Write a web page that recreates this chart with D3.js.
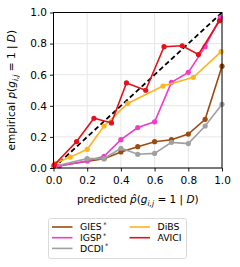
<!DOCTYPE html>
<meta charset="utf-8">
<script src="https://d3js.org/d3.v7.min.js"></script>
<style>
  body { margin: 0; background: #fff; }
  text { font-family: "DejaVu Sans", sans-serif; }
</style>
<svg id="chart"></svg>
<script>

// calibration data
let gies_x  = [0.0, 0.3, 0.4, 0.5, 0.6, 0.7, 0.8, 0.9, 1.0],
    gies_y  = [0.01, 0.06, 0.103, 0.137, 0.169, 0.182, 0.218, 0.313, 0.655];
let igsp_x  = [0.035, 0.2, 0.3, 0.4, 0.5, 0.6, 0.7, 0.8, 0.9, 0.99],
    igsp_y  = [0.013, 0.045, 0.075, 0.182, 0.26, 0.297, 0.551, 0.615, 0.78, 0.967];
let dcdi_x  = [0.0, 0.2, 0.3, 0.4, 0.5, 0.6, 0.7, 0.8, 0.9, 1.0],
    dcdi_y  = [0.01, 0.06, 0.06, 0.127, 0.088, 0.094, 0.165, 0.157, 0.27, 0.41];
let dibs_x  = [0.01, 0.1, 0.2, 0.3, 0.44, 0.65, 0.83, 0.995],
    dibs_y  = [0.03, 0.07, 0.12, 0.27, 0.415, 0.527, 0.583, 0.748];
let avici_x = [0.005, 0.137, 0.24, 0.344, 0.433, 0.547, 0.656, 0.764, 0.86, 0.985],
    avici_y = [0.02, 0.17, 0.32, 0.29, 0.547, 0.50, 0.78, 0.786, 0.73, 0.947];

let series_names = ["GIES", "IGSP", "DCDI", "DiBS", "AVICI"];
let series_star = [true, true, true, false, false];
let series_colors = ["#9c4a0e", "#f03cc8", "#a0a0a0", "#ffb41e", "#e3111b"];
let ticks = [0, 0.2, 0.4, 0.6, 0.8, 1.0];

let series = [
  {x: gies_x, y: gies_y},
  {x: igsp_x, y: igsp_y},
  {x: dcdi_x, y: dcdi_y},
  {x: dibs_x, y: dibs_y},
  {x: avici_x, y: avici_y}
];

let svg = d3.select("#chart"),
    width = 240,
    height = 267;
svg.attr("width", width).attr("height", height);

let x = d3.scaleLinear().domain([0, 1]).range([53.5, 222]);
let y = d3.scaleLinear().domain([0, 1]).range([168, 12.5]);

// grid
let grid = svg.append("g");
grid.selectAll(".gx").data(ticks).enter().append("line")
    .attr("x1", d => x(d)).attr("x2", d => x(d))
    .attr("y1", y(0)).attr("y2", y(1))
    .attr("stroke", "#e6e6e6").attr("stroke-width", 1);
grid.selectAll(".gy").data(ticks).enter().append("line")
    .attr("x1", x(0)).attr("x2", x(1))
    .attr("y1", d => y(d)).attr("y2", d => y(d))
    .attr("stroke", "#e6e6e6").attr("stroke-width", 1);

// diagonal
let plot = svg.append("g");
plot.append("line")
    .attr("x1", x(0)).attr("y1", y(0)).attr("x2", x(1)).attr("y2", y(1))
    .attr("stroke", "#000").attr("stroke-width", 1.8)
    .attr("stroke-dasharray", "5,3");

let line = d3.line().x(d => x(d[0])).y(d => y(d[1]));

series.forEach(function(s, i) {
  let pts = s.x.map((v, k) => [v, s.y[k]]);
  plot.append("path")
      .attr("d", line(pts))
      .attr("fill", "none")
      .attr("stroke", series_colors[i])
      .attr("stroke-width", 1.6);
  plot.selectAll(".p" + i).data(pts).enter().append("circle")
      .attr("cx", d => x(d[0])).attr("cy", d => y(d[1]))
      .attr("r", 2.6)
      .attr("fill", series_colors[i]);
});

// axes
let xAxis = svg.append("g").attr("transform", "translate(0," + y(0) + ")")
    .call(d3.axisBottom(x).tickValues(ticks).tickFormat(d3.format(".1f")).tickSizeOuter(0).tickSize(3.5));
let yAxis = svg.append("g").attr("transform", "translate(" + x(0) + ",0)")
    .call(d3.axisLeft(y).tickValues(ticks).tickFormat(d3.format(".1f")).tickSizeOuter(0).tickSize(3.5));
[xAxis, yAxis].forEach(function(a) {
  a.select(".domain").remove();
  a.selectAll("line").attr("stroke", "#000").attr("stroke-width", 0.9);
  a.selectAll("text").attr("font-size", "10.5px").attr("fill", "#000")
    .attr("font-family", "DejaVu Sans");
});
xAxis.selectAll("text").attr("dy", "0.95em");

// frame
svg.append("rect")
    .attr("x", x(0)).attr("y", y(1))
    .attr("width", x(1) - x(0)).attr("height", y(0) - y(1))
    .attr("fill", "none").attr("stroke", "#000").attr("stroke-width", 1);

// axis labels with math parts
function mathLabel(t, prefix, hat) {
  t.append("tspan").text(prefix);
  t.append("tspan").attr("font-style", "italic").text(hat ? "p\u0302" : "p");
  t.append("tspan").text("(");
  t.append("tspan").attr("font-style", "italic").text("g");
  t.append("tspan").attr("font-style", "italic").attr("font-size", "7.5px")
      .attr("dy", "3").text("i,j");
  t.append("tspan").attr("dy", "-3").text(" = 1 | ");
  t.append("tspan").attr("font-style", "italic").text("D");
  t.append("tspan").text(")");
}

let xl = svg.append("text")
    .attr("x", (x(0) + x(1)) / 2).attr("y", 203)
    .attr("text-anchor", "middle").attr("font-size", "10.5px").attr("fill", "#000");
mathLabel(xl, "predicted ", true);

let yl = svg.append("text")
    .attr("transform", "translate(15," + ((y(0) + y(1)) / 2) + ") rotate(-90)")
    .attr("text-anchor", "middle").attr("font-size", "10.5px").attr("fill", "#000");
mathLabel(yl, "empirical ", false);

// legend
let legend = svg.append("g");
legend.append("rect")
    .attr("x", 48.5).attr("y", 218.5).attr("width", 138).attr("height", 40)
    .attr("rx", 2).attr("fill", "#fff").attr("stroke", "#d0d0d0").attr("stroke-width", 0.8);

let legendPos = [[0, 0], [0, 1], [0, 2], [1, 0], [1, 1]];
series_names.forEach(function(name, i) {
  let lx = legendPos[i][0] ? 129.5 : 52,
      ly = 227 + legendPos[i][1] * 10.7;
  legend.append("line")
      .attr("x1", lx).attr("x2", lx + 20.5).attr("y1", ly).attr("y2", ly)
      .attr("stroke", series_colors[i]).attr("stroke-width", 1.6);
  let t = legend.append("text")
      .attr("x", lx + 28).attr("y", ly + 3.4)
      .attr("font-size", "9.3px").attr("fill", "#000").text(name);
  if (series_star[i]) {
    t.append("tspan").attr("font-size", "6.5px").attr("dy", "-3.5").attr("dx", "1.5").text("*");
  }
});

</script>
